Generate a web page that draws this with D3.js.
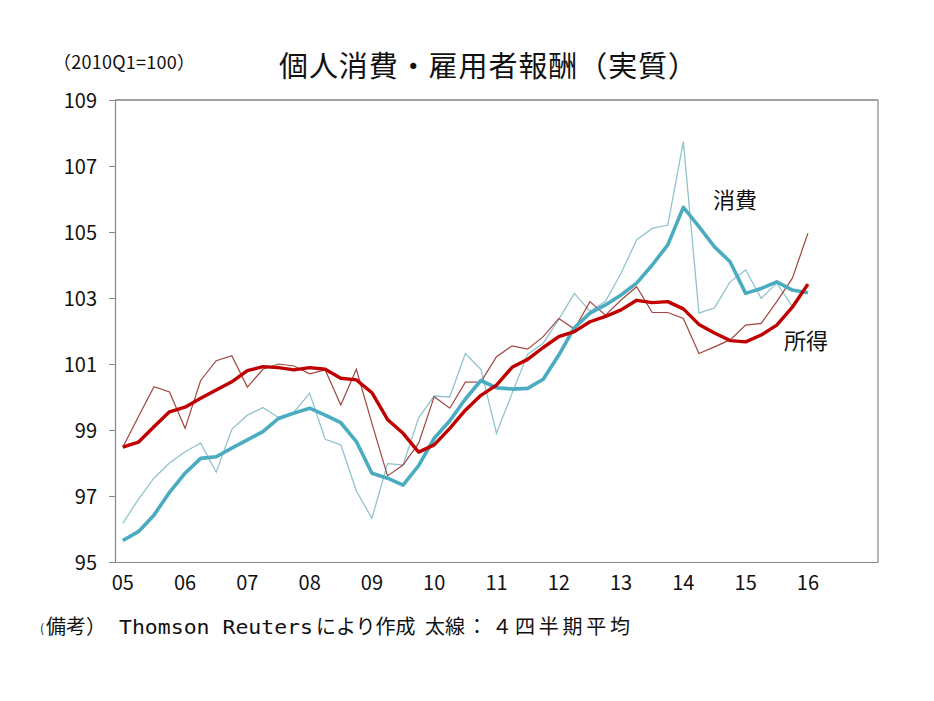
<!DOCTYPE html>
<html><head><meta charset="utf-8">
<script src="https://cdn.jsdelivr.net/npm/d3@7"></script>
<style>
body{margin:0;background:#fff;}
text{font-family:"Noto Sans CJK JP","Noto Sans",sans-serif;fill:#111;}
</style></head>
<body><div id="chart"></div>
<script>
// quarters 05Q1 .. 17Q1 (axis categories)
const years = ["05","06","07","08","09","10","11","12","13","14","15","16","17"];
const quarters = [];
years.forEach(y => [1,2,3,4].forEach(q => quarters.push(y + "Q" + q)));
const categories = quarters.slice(0, 49);
const tickLabels = ["05","06","07","08","09","10","11","12","13","14","15","16"];
const yTicks = [95,97,99,101,103,105,107,109];

// 消費 quarterly (thin)
const consumption = [96.17,96.9,97.54,98.0,98.34,98.6,97.72,99.02,99.45,99.68,99.38,99.55,100.11,98.72,98.55,97.15,96.32,97.98,97.94,99.37,100.03,100.0,101.32,100.83,98.9,100.11,101.3,101.63,102.35,103.14,102.6,102.9,103.75,104.76,105.11,105.21,107.74,102.54,102.7,103.49,103.85,102.99,103.45,102.74,103.4];
// 消費 4-quarter average (thick)
const consumptionAvg = [95.65,95.92,96.42,97.11,97.69,98.14,98.19,98.45,98.7,98.95,99.35,99.51,99.66,99.45,99.22,98.65,97.69,97.54,97.33,97.92,98.75,99.28,99.94,100.5,100.28,100.24,100.26,100.54,101.27,102.1,102.54,102.79,103.09,103.45,104.0,104.61,105.75,105.16,104.55,104.1,103.14,103.29,103.49,103.24,103.16];
// 所得 quarterly (thin)
const income = [98.48,99.4,100.31,100.15,99.05,100.5,101.1,101.25,100.3,100.84,101.0,100.94,100.7,100.82,99.76,100.84,99.2,97.61,97.94,98.6,100.01,99.66,100.45,100.46,101.22,101.55,101.45,101.83,102.38,102.06,102.89,102.48,102.94,103.34,102.56,102.56,102.38,101.32,101.52,101.73,102.18,102.23,102.89,103.6,104.96];
// 所得 4-quarter average (thick)
const incomeAvg = [98.48,98.63,99.1,99.55,99.69,99.96,100.21,100.46,100.8,100.92,100.89,100.82,100.89,100.84,100.57,100.52,100.13,99.32,98.9,98.33,98.55,99.05,99.6,100.05,100.36,100.9,101.14,101.5,101.83,101.98,102.28,102.44,102.64,102.93,102.86,102.89,102.67,102.2,101.94,101.71,101.67,101.88,102.18,102.72,103.42];

const W = 934, H = 701;
const svg = d3.select("#chart").append("svg").attr("width", W).attr("height", H)
  .style("background", "#fff");

const pLeft = 115, pRight = 878, pTop = 100, pBottom = 562;
const x = d3.scaleBand().domain(categories).range([pLeft, pRight]).padding(0);
const xc = q => x(q) + x.bandwidth() / 2;
const y = d3.scaleLinear().domain([95, 109]).range([pBottom, pTop]);

// frame
svg.append("line").attr("x1", pLeft).attr("x2", pRight).attr("y1", pTop).attr("y2", pTop)
  .attr("stroke", "#444").attr("stroke-width", 1.2);
svg.append("line").attr("x1", pRight).attr("x2", pRight).attr("y1", pTop).attr("y2", pBottom)
  .attr("stroke", "#888").attr("stroke-width", 1.2);

// y axis
const yAxis = d3.axisLeft(y).tickValues(yTicks).tickSize(6).tickFormat(d3.format("d"));
const gy = svg.append("g").attr("transform", `translate(${pLeft},0)`).call(yAxis);
gy.select(".domain").attr("stroke", "#888").attr("stroke-width", 1.2);
gy.selectAll(".tick line").attr("stroke", "#888");
gy.selectAll(".tick text").attr("x", -18).attr("dy", "0.36em")
  .style("font-size", "20px").style("font-family", "'Noto Sans CJK JP'").attr("fill", "#111");

// x axis
const xAxis = d3.axisBottom(x).tickValues(tickLabels.map(t => t + "Q1")).tickSize(0)
  .tickFormat(d => d.slice(0, 2));
const gx = svg.append("g").attr("transform", `translate(0,${pBottom})`).call(xAxis);
gx.select(".domain").attr("stroke", "#888").attr("stroke-width", 1.2);
gx.selectAll(".tick text").attr("y", 14).attr("dy", "0.71em")
  .style("font-size", "20px").style("font-family", "'Noto Sans CJK JP'").attr("fill", "#111");

const line = d3.line().x((d, i) => xc(categories[i])).y(d => y(d));

svg.append("path").datum(consumption).attr("d", line)
  .attr("fill", "none").attr("stroke", "#92c4cd").attr("stroke-width", 1.3);
svg.append("path").datum(income).attr("d", line)
  .attr("fill", "none").attr("stroke", "#a0453f").attr("stroke-width", 1.2);
svg.append("path").datum(consumptionAvg).attr("d", line)
  .attr("fill", "none").attr("stroke", "#4aacc0").attr("stroke-width", 3.6)
  .attr("stroke-linejoin", "round");
svg.append("path").datum(incomeAvg).attr("d", line)
  .attr("fill", "none").attr("stroke", "#c00000").attr("stroke-width", 3.4)
  .attr("stroke-linejoin", "round");

// texts
svg.append("text").attr("x", 279).attr("y", 77).style("font-size", "29px")
  .attr("textLength", 418).attr("lengthAdjust", "spacing")
  .text("個人消費・雇用者報酬（実質）");
svg.append("text").attr("x", 53).attr("y", 69).style("font-size", "18px")
  .attr("textLength", 142).attr("lengthAdjust", "spacing")
  .text("（2010Q1=100）");
svg.append("text").attr("x", 713).attr("y", 208).style("font-size", "22px").text("消費");
svg.append("text").attr("x", 784).attr("y", 349).style("font-size", "22px").text("所得");

const foot = svg.append("g").style("font-size", "20px");
foot.append("text").attr("x", 40).attr("y", 633).style("font-size", "12px").text("(");
foot.append("text").attr("x", 46).attr("y", 634).text("備考）");
foot.append("text").attr("x", 119).attr("y", 634)
  .style("font-family", "'DejaVu Sans Mono', monospace").style("font-size", "19px")
  .attr("textLength", 194).attr("lengthAdjust", "spacingAndGlyphs").text("Thomson Reuters");
foot.append("text").attr("x", 316).attr("y", 634).text("により作成");
foot.append("text").attr("x", 425).attr("y", 634).text("太線");
foot.append("text").attr("x", 467).attr("y", 634).text("：");
foot.append("text").attr("x", 492).attr("y", 634).text("４");
foot.append("text").attr("x", 515).attr("y", 634)
  .attr("textLength", 115).attr("lengthAdjust", "spacing").text("四半期平均");
</script></body></html>
